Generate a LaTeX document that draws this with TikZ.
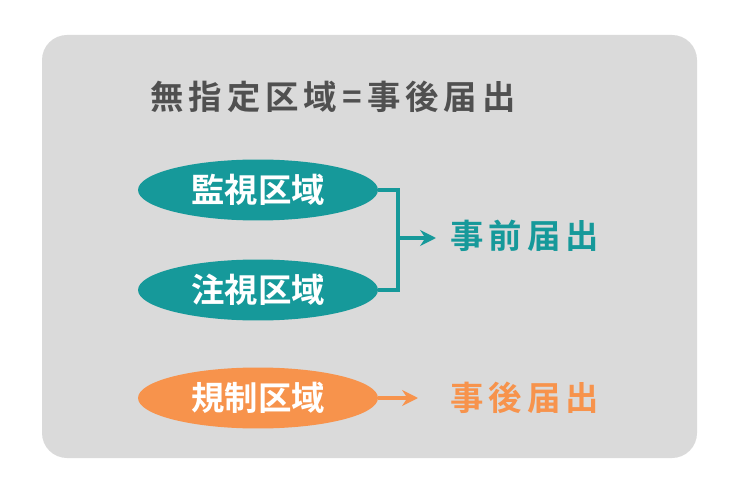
\documentclass[tikz,border=0pt]{standalone}
\usepackage{fontspec}
\newfontfamily\jp{Noto Sans CJK JP Bold}
\newfontfamily\jpwide[LetterSpace=15]{Noto Sans CJK JP Bold}
\usetikzlibrary{arrows.meta,shapes.geometric}
\definecolor{bggray}{HTML}{DADADA}
\definecolor{teal1}{HTML}{16999A}
\definecolor{orange1}{HTML}{F7934C}
\definecolor{dark1}{HTML}{505050}
\tikzset{>={Stealth[length=9pt,width=9pt]}}
\tikzstyle{area}=[ellipse,minimum width=4.8cm,minimum height=1.22cm,inner sep=0pt,text=white,font=\jp\fontsize{19}{20}\selectfont]
\tikzstyle{result}=[anchor=west,inner sep=0pt,font=\jpwide\fontsize{19}{20}\selectfont]
\tikzstyle{link}=[line width=2.2pt]
\begin{document}
\begin{tikzpicture}[x=0.02cm,y=-0.02cm]
\useasboundingbox (0,0) rectangle (740,493);
\fill[bggray,rounded corners=0.5cm] (42,35) rectangle (697,458);

\node[anchor=west,inner sep=0pt,text=dark1,font=\jpwide\fontsize{19}{20}\selectfont] (title) at (150,97) {無指定区域=事後届出};

\node[area,fill=teal1] (A1) at (258,190) {監視区域};
\node[area,fill=teal1] (A2) at (258,290) {注視区域};
\node[area,fill=orange1] (A3) at (258,398) {規制区域};

\node[result,text=teal1] (r1) at (450,236) {事前届出};
\node[result,text=orange1] (r2) at (450,398) {事後届出};

\coordinate (top) at (398,190);
\coordinate (bot) at (398,290);
\coordinate (mid) at (398,238);
\draw[link,teal1] (A1.east) -- (top) -- (bot) -- (A2.east);
\draw[link,teal1,->] (mid) -- (436,238);
\draw[link,orange1,->] (A3.east) -- (418,398);
\end{tikzpicture}
\end{document}
